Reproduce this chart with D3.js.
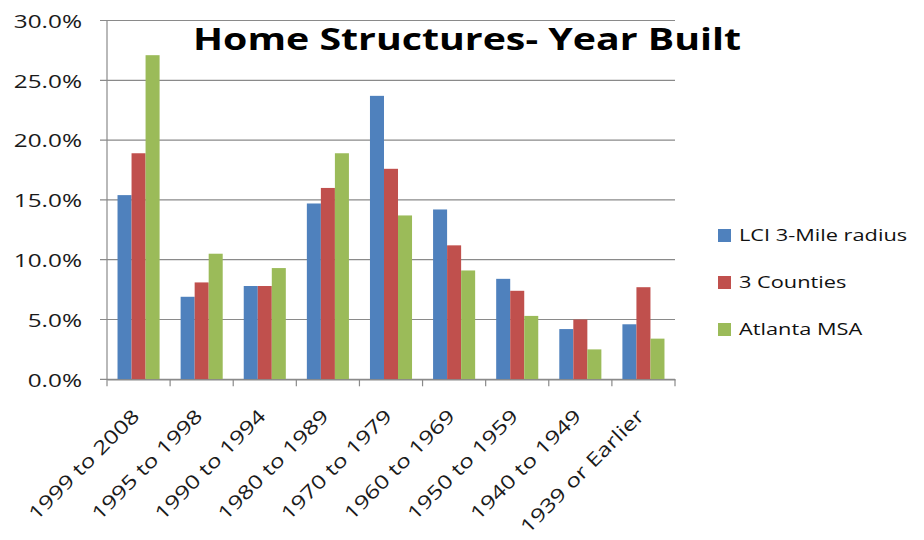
<!DOCTYPE html>
<html>
<head>
<meta charset="utf-8">
<script src="https://cdn.jsdelivr.net/npm/d3@7"></script>
<style>
  html, body { margin: 0; padding: 0; background: #fff; }
  svg { display: block; font-family: "Open Sans", sans-serif; }
</style>
</head>
<body>
<svg id="chart" width="924" height="540"></svg>
<script>
// Share of housing structures by year built
const categories = ["1999 to 2008", "1995 to 1998", "1990 to 1994", "1980 to 1989",
  "1970 to 1979", "1960 to 1969", "1950 to 1959", "1940 to 1949", "1939 or Earlier"];
const seriesNames = ["LCI 3-Mile radius", "3 Counties", "Atlanta MSA"];
const lciValues      = [15.4, 6.9, 7.8, 14.7, 23.7, 14.2, 8.4, 4.2, 4.6];
const countiesValues = [18.9, 8.1, 7.8, 16.0, 17.6, 11.2, 7.4, 5.0, 7.7];
const msaValues      = [27.1, 10.5, 9.3, 18.9, 13.7, 9.1, 5.3, 2.5, 3.4];
const yTicks = [0, 5, 10, 15, 20, 25, 30];
const colors = ["#4F81BD", "#C0504D", "#9BBB59"];

const seriesValues = [lciValues, countiesValues, msaValues];
const rows = categories.map((c, i) => ({
  category: c,
  values: seriesValues.map((vals, s) => ({ series: seriesNames[s], value: vals[i] }))
}));

const svg = d3.select("#chart");
const plot = { left: 107, right: 675, top: 20.5, bottom: 379.3 };
const gridColor = "#8a8a8a";
const textStretch = 1.28;   // wide letterforms throughout the chart

const x = d3.scaleBand().domain(categories).range([plot.left, plot.right]).paddingInner(0).paddingOuter(0);
const xInner = d3.scaleBand().domain(seriesNames).range([0, x.bandwidth()]).paddingInner(0).paddingOuter(0.75);
const y = d3.scaleLinear().domain([0, 30]).range([plot.bottom, plot.top]);

// Horizontal gridlines (extend left as tick marks)
svg.append("g")
  .selectAll("line")
  .data(yTicks)
  .join("line")
  .attr("x1", plot.left - 7).attr("x2", plot.right)
  .attr("y1", d => y(d)).attr("y2", d => y(d))
  .attr("stroke", gridColor).attr("stroke-width", 1.2);

// Y axis labels
const yAxis = d3.axisLeft(y).tickValues(yTicks).tickSize(0).tickPadding(0)
  .tickFormat(d => d3.format(".1f")(d) + "%");
svg.append("g")
  .attr("transform", "translate(82,0)")
  .call(yAxis)
  .call(g => g.select(".domain").remove())
  .call(g => g.selectAll("text")
    .attr("x", 0)
    .attr("dy", "0.36em")
    .attr("transform", `scale(${textStretch},1)`)
    .attr("font-family", "'Open Sans', sans-serif")
    .attr("font-size", 19)
    .attr("fill", "#1a1a1a"));

// Bars
svg.append("g")
  .selectAll("g")
  .data(rows)
  .join("g")
  .attr("transform", d => `translate(${x(d.category)},0)`)
  .selectAll("rect")
  .data(d => d.values)
  .join("rect")
  .attr("x", d => xInner(d.series))
  .attr("width", xInner.bandwidth())
  .attr("y", d => y(d.value))
  .attr("height", d => y(0) - y(d.value))
  .attr("fill", (d, i) => colors[i]);

// Y axis line
svg.append("line")
  .attr("x1", plot.left).attr("x2", plot.left)
  .attr("y1", plot.top).attr("y2", plot.bottom)
  .attr("stroke", gridColor).attr("stroke-width", 1.2);

// X axis with category tick marks at band edges
const xAxis = d3.axisBottom(x).tickSize(0).tickFormat("");
const xg = svg.append("g").attr("transform", `translate(0,${plot.bottom})`).call(xAxis);
xg.select(".domain").attr("stroke", gridColor).attr("stroke-width", 1.2);
xg.selectAll(".tick").remove();
const edges = categories.map(c => x(c)).concat([plot.right]);
xg.selectAll("line.edge")
  .data(edges)
  .join("line")
  .attr("class", "edge")
  .attr("x1", d => d).attr("x2", d => d)
  .attr("y1", 0).attr("y2", 7)
  .attr("stroke", gridColor).attr("stroke-width", 1.2);

// Rotated category labels
svg.append("g")
  .selectAll("text")
  .data(categories)
  .join("text")
  .attr("transform", d => `translate(${x(d) + x.bandwidth() / 2 + 2},${plot.bottom + 38}) rotate(-45) scale(${textStretch},1)`)
  .attr("text-anchor", "end")
  .attr("font-size", 19)
  .attr("fill", "#1a1a1a")
  .text(d => d);

// Title
svg.append("text")
  .attr("x", 467).attr("y", 50)
  .attr("text-anchor", "middle")
  .attr("font-size", 30)
  .attr("font-weight", "bold")
  .attr("fill", "#000")
  .attr("textLength", 548)
  .attr("lengthAdjust", "spacingAndGlyphs")
  .text("Home Structures- Year Built");

// Legend
const legend = svg.append("g").attr("transform", "translate(718,0)");
const legendY = [235, 282, 329];
seriesNames.forEach((name, i) => {
  legend.append("rect")
    .attr("x", 0).attr("y", legendY[i] - 6)
    .attr("width", 13).attr("height", 13)
    .attr("fill", colors[i]);
  legend.append("text")
    .attr("transform", `translate(21,${legendY[i]}) scale(${textStretch},1)`)
    .attr("dy", "0.36em")
    .attr("font-size", 17)
    .attr("fill", "#111")
    .text(name);
});
</script>
</body>
</html>
